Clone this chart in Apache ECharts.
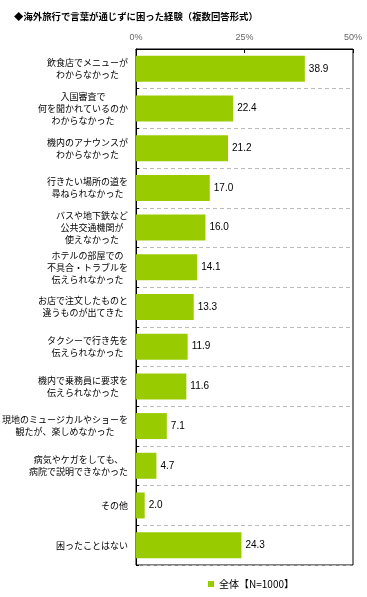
<!DOCTYPE html>
<html>
<head>
<meta charset="utf-8">
<script src="https://cdn.jsdelivr.net/npm/echarts@6/dist/echarts.min.js"></script>
<style>
html,body{margin:0;padding:0;background:#fff;}
#chart{width:367px;height:597px;}
</style>
</head>
<body>
<div id="chart"></div>
<script>
const titleText = '◆海外旅行で言葉が通じずに困った経験（複数回答形式）';
const seriesName = '全体【N=1000】';
const categories = [
  '飲食店でメニューが\nわからなかった',
  '入国審査で\n何を聞かれているのか\nわからなかった',
  '機内のアナウンスが\nわからなかった',
  '行きたい場所の道を\n尋ねられなかった',
  'バスや地下鉄など\n公共交通機関が\n使えなかった',
  'ホテルの部屋での\n不具合・トラブルを\n伝えられなかった',
  'お店で注文したものと\n違うものが出てきた',
  'タクシーで行き先を\n伝えられなかった',
  '機内で乗務員に要求を\n伝えられなかった',
  '現地のミュージカルやショーを\n観たが、楽しめなかった',
  '病気やケガをしても、\n病院で説明できなかった',
  'その他',
  '困ったことはない'
];
const values = [38.9, 22.4, 21.2, 17.0, 16.0, 14.1, 13.3, 11.9, 11.6, 7.1, 4.7, 2.0, 24.3];
const xTicks = [0, 25, 50];

const chart = echarts.init(document.getElementById('chart'), null, {renderer: 'canvas'});
const jp = '"Noto Sans CJK JP", sans-serif';
chart.setOption({
  animation: false,
  backgroundColor: '#fff',
  title: {
    text: titleText,
    left: 9,
    top: 7,
    textStyle: {fontSize: 9.4, fontWeight: 'bold', color: '#000', fontFamily: jp}
  },
  legend: {
    data: [seriesName],
    left: 203,
    top: 574,
    icon: 'rect',
    itemWidth: 6,
    itemHeight: 6,
    itemGap: 4,
    textStyle: {fontSize: 10, color: '#000', fontFamily: jp}
  },
  grid: {
    left: 136, right: 14, top: 49, bottom: 32,
    containLabel: false,
    outerBoundsMode: 'none',
    show: true, borderColor: '#000', borderWidth: 1, backgroundColor: 'transparent'
  },
  xAxis: {
    type: 'value',
    position: 'top',
    min: xTicks[0],
    max: xTicks[xTicks.length - 1],
    interval: xTicks[1] - xTicks[0],
    axisLine: {show: true, lineStyle: {color: '#000', width: 1}},
    axisTick: {show: true, inside: true, length: 4, lineStyle: {color: '#000'}},
    axisLabel: {formatter: '{value}%', fontSize: 9, color: '#666', margin: 7, fontFamily: '"Liberation Sans", Arial, sans-serif'},
    splitLine: {show: false}
  },
  yAxis: {
    type: 'category',
    inverse: true,
    data: categories,
    axisLine: {show: true, lineStyle: {color: '#000', width: 1}},
    axisTick: {show: true, inside: true, length: 3, lineStyle: {color: '#000'}},
    axisLabel: {
      margin: 8,
      fontSize: 9,
      lineHeight: 12,
      color: '#000',
      fontFamily: jp,
      formatter: function (v) {
        return v.split('\n').map(function (s) { return '{c|' + s + '}'; }).join('\n');
      },
      rich: {
        c: {align: 'center', fontSize: 9, lineHeight: 12, color: '#000', fontFamily: jp}
      }
    },
    splitLine: {show: true, lineStyle: {color: '#bbb', type: [4, 3], width: 1}}
  },
  series: [{
    name: seriesName,
    type: 'bar',
    data: values,
    barWidth: 26,
    itemStyle: {color: '#99CC00'},
    label: {
      show: true,
      position: 'right',
      distance: 4,
      fontSize: 10,
      color: '#000',
      fontFamily: '"Liberation Sans", Arial, sans-serif',
      formatter: function (p) { return p.value.toFixed(1); }
    }
  }]
});
</script>
</body>
</html>
